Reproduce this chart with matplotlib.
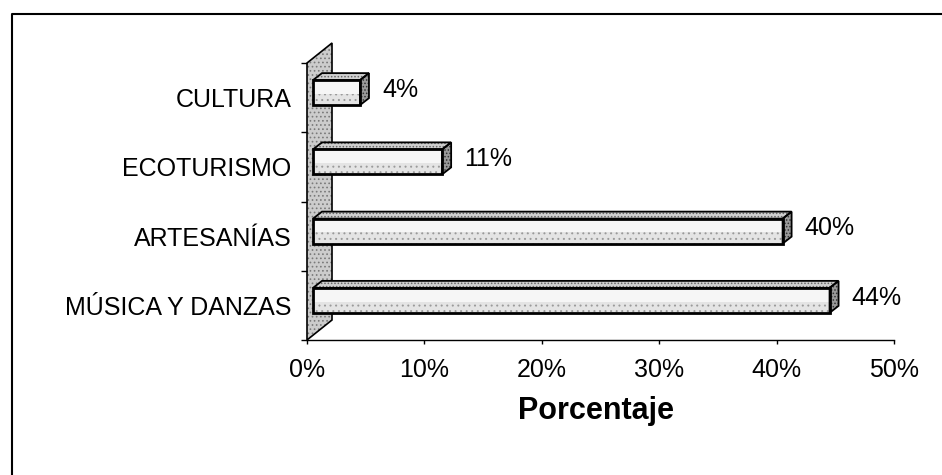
import matplotlib
matplotlib.use("Agg")
import matplotlib.pyplot as plt
from matplotlib.patches import Polygon
from matplotlib.lines import Line2D

# data (bottom to top as drawn)
categories = ["MÚSICA Y DANZAS", "ARTESANÍAS", "ECOTURISMO", "CULTURA"]
values = [44, 40, 11, 4]
data_labels = ["44%", "40%", "11%", "4%"]
xticks = [0, 10, 20, 30, 40, 50]
xtick_labels = ["0%", "10%", "20%", "30%", "40%", "50%"]

plt.rcParams['font.family'] = ['Liberation Sans', 'DejaVu Sans']
plt.rcParams['hatch.linewidth'] = 0.7

W, H = 942, 475
fig = plt.figure(figsize=(W / 100, H / 100), dpi=100)
fig.patch.set_facecolor('white')

# axes box in pixels
ax_left, ax_bottom, ax_w, ax_h = 307, 135, 587, 277
ax = fig.add_axes([ax_left / W, ax_bottom / H, ax_w / W, ax_h / H])
ax.set_xlim(0, 50)
ax.set_ylim(-0.5, 3.5)
ax.patch.set_alpha(0)

# pixel -> data unit helpers, for the fake 3d depth
px_x = 50 / ax_w
px_y = 4 / ax_h

# left wall
wdx, wdy = 25 * px_x, 20 * px_y
wall = [(0, -0.5), (wdx, -0.5 + wdy), (wdx, 3.5 + wdy), (0, 3.5)]
ax.add_patch(Polygon(wall, closed=True, facecolor='#cccccc', edgecolor='#7a7a7a',
                     lw=0, hatch='....', clip_on=False, zorder=1))
ax.add_patch(Polygon(wall, closed=True, fill=False, edgecolor='black',
                     lw=1.2, clip_on=False, zorder=1.5))

# bars
shift_x, shift_y = 6 * px_x, 5 * px_y
bar_h = 25 * px_y
dx, dy = 9 * px_x, 7 * px_y
for i, (v, lab) in enumerate(zip(values, data_labels)):
    x0, x1 = shift_x, v + shift_x
    y0 = i + shift_y - bar_h / 2
    y1 = y0 + bar_h
    top = [(x0, y1), (x1, y1), (x1 + dx, y1 + dy), (x0 + dx, y1 + dy)]
    side = [(x1, y0), (x1 + dx, y0 + dy), (x1 + dx, y1 + dy), (x1, y1)]
    front = [(x0, y0), (x1, y0), (x1, y1), (x0, y1)]
    lower = [(x0, y0), (x1, y0), (x1, y0 + bar_h * 0.45), (x0, y0 + bar_h * 0.45)]

    ax.add_patch(Polygon(top, closed=True, facecolor='#cfcfcf', edgecolor='#666666',
                         lw=0, hatch='.....', clip_on=False, zorder=2))
    ax.add_patch(Polygon(side, closed=True, facecolor='#9a9a9a', edgecolor='#333333',
                         lw=0, hatch='.....', clip_on=False, zorder=2))
    ax.add_patch(Polygon(front, closed=True, facecolor='#f6f6f6', lw=0,
                         clip_on=False, zorder=2))
    ax.add_patch(Polygon(lower, closed=True, facecolor='#e4e4e4', edgecolor='#9a9a9a',
                         lw=0, hatch='...', clip_on=False, zorder=2))
    for poly, lw in ((top, 1.3), (side, 1.3), (front, 2.0)):
        ax.add_patch(Polygon(poly, closed=True, fill=False, edgecolor='black',
                             lw=lw, joinstyle='miter', clip_on=False, zorder=3))

    ax.annotate(lab, (x1, i + shift_y), xytext=(16, 2), textcoords='offset points',
                ha='left', va='center', fontsize=18, color='black')

# axes styling
for s in ['top', 'right', 'left']:
    ax.spines[s].set_visible(False)
ax.spines['bottom'].set_linewidth(1.0)

ax.set_xticks(xticks)
ax.set_xticklabels(xtick_labels, fontsize=18)
ax.tick_params(axis='x', direction='out', length=3, width=1, pad=10)

ax.set_yticks(range(len(categories)))
ax.set_yticklabels(categories, fontsize=18)
ax.tick_params(axis='y', which='major', length=0, pad=11)
ax.set_yticks([-0.5, 0.5, 1.5, 2.5, 3.5], minor=True)
ax.tick_params(axis='y', which='minor', direction='out', length=4, width=1)

fig.text(596 / W, 1 - 411 / H, "Porcentaje", ha='center', va='center',
         fontsize=22, fontweight='bold')

# outer frame (scan shows top and left edges only)
fig.add_artist(Line2D([12 / W, 12 / W, 1], [0, 1 - 14 / H, 1 - 14 / H],
                      transform=fig.transFigure, color='black', lw=1.5))

fig.savefig('out.png', dpi=100)
